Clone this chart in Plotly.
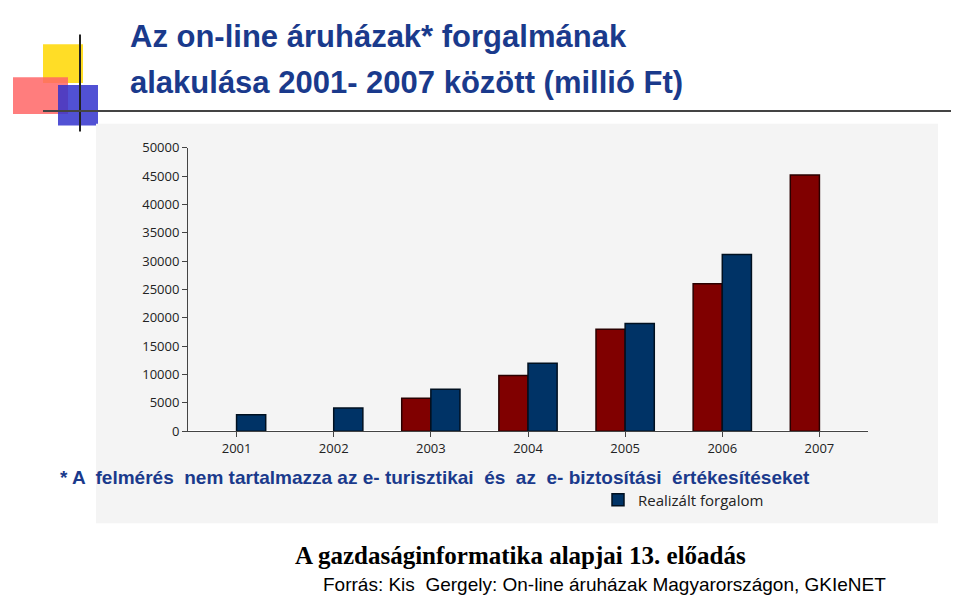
import plotly.graph_objects as go

years = ['2001', '2002', '2003', '2004', '2005', '2006', '2007']
varakozas = [None, None, 5800, 9800, 18000, 26000, 45200]
realizalt = [2900, 4100, 7400, 12000, 19000, 31200, None]

W, H = 959, 597
fig = go.Figure()
fig.add_trace(go.Bar(x=years, y=varakozas, name='Várakozás', legend='legend',
                     marker=dict(color='#800000', line=dict(color='#2a0000', width=1.5))))
fig.add_trace(go.Bar(x=years, y=realizalt, name='Realizált forgalom', legend='legend2',
                     marker=dict(color='#003366', line=dict(color='#001020', width=1.5))))

def px(x, y):
    return x / W, 1 - y / H

shapes = []
# decorative squares top-left
for (x0, y0, x1, y1, c) in [(35, 28, 75, 68, '#ffd700'), (5, 62, 60, 100, '#ff6666'), (50, 70, 90, 112, '#3333cc')]:
    a, b = px(x0, y0); c2, d = px(x1, y1)
    shapes.append(dict(type='rect', xref='paper', yref='paper', x0=a, y0=d, x1=c2, y1=b, fillcolor=c, line_width=0, opacity=0.85, layer='below'))
a, b = px(72, 18); c2, d = px(72, 118)
shapes.append(dict(type='line', xref='paper', yref='paper', x0=a, y0=b, x1=c2, y1=d, line=dict(color='#222', width=2)))
a, b = px(35, 97); c2, d = px(950, 97)
shapes.append(dict(type='line', xref='paper', yref='paper', x0=a, y0=b, x1=c2, y1=d, line=dict(color='#444', width=2)))
a, b = px(88, 110); c2, d = px(930, 522)
shapes.append(dict(type='rect', xref='paper', yref='paper', x0=a, y0=d, x1=c2, y1=b, fillcolor='#f4f4f4', line_width=0, layer='below'))

ann = [
    dict(x=120/W, y=1-20/H, text='<b>Az on-line áruházak* forgalmának</b>', font=dict(size=31, color='#1a3a8c', family='Liberation Sans')),
    dict(x=120/W, y=1-68/H, text='<b>alakulása 2001- 2007 között (millió Ft)</b>', font=dict(size=31, color='#1a3a8c', family='Liberation Sans')),
    dict(x=50/W, y=1-475/H, text='<b>* A  felmérés  nem tartalmazza az e- turisztikai  és  az  e- biztosítási  értékesítéseket</b>', font=dict(size=19, color='#1a3a8c', family='Liberation Sans')),
    dict(x=285/W, y=1-555/H, text='<b>A gazdaságinformatika alapjai 13. előadás</b>', font=dict(size=25, color='black', family='Liberation Serif')),
    dict(x=313/W, y=1-585/H, text='Forrás: Kis  Gergely: On-line áruházak Magyarországon, GKIeNET', font=dict(size=19, color='black', family='Liberation Sans')),
]
for a_ in ann:
    a_.update(xref='paper', yref='paper', xanchor='left', yanchor='middle', showarrow=False)

leg = dict(orientation='h', y=1-498/H, xanchor='left', yanchor='middle', font=dict(size=15, color='#222'),
           bgcolor='rgba(0,0,0,0)')
fig.update_layout(
    width=W, height=H, paper_bgcolor='white', plot_bgcolor='white',
    margin=dict(l=0, r=0, t=0, b=0),
    barmode='group', bargap=0.4, bargroupgap=0,
    xaxis=dict(domain=[180/W, 860/W], showline=True, linecolor='#444', ticks='outside', tickfont=dict(size=13, color='#222'), showgrid=False),
    yaxis=dict(domain=[1-427/H, 1-135/H], range=[0, 50000], dtick=5000, tickformat='d', showline=True, linecolor='#444',
               ticks='outside', showgrid=False, tickfont=dict(size=13, color='#222')),
    legend=dict(leg, x=262/W), legend2=dict(leg, x=590/W),
    shapes=shapes, annotations=ann,
)
fig.write_html('out.html')
